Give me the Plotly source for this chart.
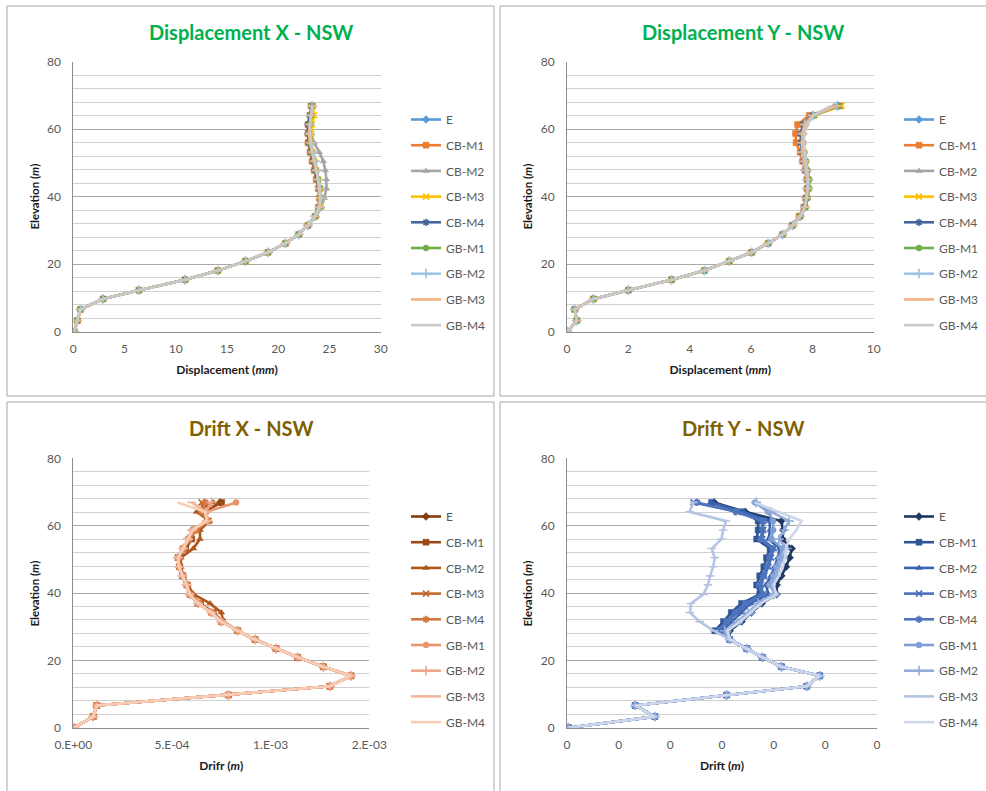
import numpy as np
import plotly.graph_objects as go

W, H = 986, 791
FONT = "Lato"

# ---------------- data ----------------
SERIES = ["E", "CB-M1", "CB-M2", "CB-M3", "CB-M4", "GB-M1", "GB-M2", "GB-M3", "GB-M4"]

ELEV = [0, 3.3, 6.6, 9.7, 12.3, 15.4, 18.1, 20.9, 23.5, 26.2, 28.8, 31.5, 34.2,
        36.9, 39.6, 42.4, 45.1, 47.8, 50.5, 53.2, 56.0, 58.7, 61.4, 64.1, 66.9]

# Displacement X (mm)
DX_E    = [0.1, 0.4, 0.7, 2.9, 6.4, 10.9, 14.1, 16.8, 19.0, 20.7, 22.0, 22.9, 23.6, 24.0, 24.1, 24.0, 23.8, 23.6, 23.5, 23.3, 23.1, 23.0, 23.0, 23.2, 23.3]
DX_CBM1 = [0.1, 0.4, 0.7, 2.9, 6.4, 10.9, 14.1, 16.8, 19.0, 20.7, 22.0, 22.9, 23.6, 23.9, 24.0, 23.9, 23.7, 23.5, 23.3, 23.1, 22.9, 22.9, 22.9, 23.1, 23.2]
DX_CBM2 = [0.1, 0.4, 0.7, 2.9, 6.4, 10.9, 14.1, 16.8, 19.0, 20.7, 22.0, 22.9, 23.7, 24.2, 24.5, 24.7, 24.7, 24.6, 24.4, 24.0, 23.5, 23.2, 23.1, 23.2, 23.3]
DX_CBM3 = [0.1, 0.4, 0.7, 2.9, 6.4, 10.9, 14.1, 16.8, 19.0, 20.7, 22.0, 22.9, 23.6, 24.1, 24.2, 24.1, 23.9, 23.7, 23.5, 23.3, 23.2, 23.2, 23.3, 23.5, 23.4]
DX_CBM4 = [0.1, 0.4, 0.7, 2.9, 6.4, 10.9, 14.1, 16.8, 19.0, 20.7, 22.0, 22.9, 23.6, 24.0, 24.1, 24.0, 23.8, 23.6, 23.4, 23.2, 23.0, 22.9, 22.9, 23.1, 23.3]
DX_GBM1 = [0.1, 0.4, 0.7, 2.9, 6.4, 10.9, 14.1, 16.8, 19.0, 20.7, 22.0, 22.9, 23.6, 24.0, 24.1, 24.1, 23.9, 23.7, 23.5, 23.3, 23.1, 23.0, 23.1, 23.2, 23.3]
DX_GBM2 = [0.1, 0.4, 0.7, 2.9, 6.4, 10.9, 14.1, 16.8, 19.0, 20.7, 22.0, 22.9, 23.6, 24.1, 24.2, 24.1, 23.9, 23.8, 23.6, 23.4, 23.2, 23.1, 23.1, 23.2, 23.3]
DX_GBM3 = [0.1, 0.4, 0.7, 2.9, 6.4, 10.9, 14.1, 16.8, 19.0, 20.7, 22.0, 22.9, 23.6, 24.0, 24.1, 24.0, 23.9, 23.7, 23.5, 23.3, 23.1, 23.0, 23.1, 23.2, 23.4]
DX_GBM4 = [0.1, 0.4, 0.7, 2.9, 6.4, 10.9, 14.1, 16.8, 19.0, 20.7, 22.0, 22.9, 23.6, 24.0, 24.1, 24.0, 23.9, 23.7, 23.5, 23.3, 23.2, 23.1, 23.1, 23.2, 23.4]

# Displacement Y (mm)
DY_E    = [0.02, 0.32, 0.25, 0.86, 2.0, 3.41, 4.48, 5.29, 6.02, 6.56, 7.03, 7.36, 7.60, 7.76, 7.82, 7.87, 7.87, 7.82, 7.76, 7.71, 7.68, 7.68, 7.74, 8.03, 8.85]
DY_CBM1 = [0.02, 0.32, 0.25, 0.86, 2.0, 3.41, 4.48, 5.29, 6.02, 6.56, 7.03, 7.34, 7.57, 7.72, 7.78, 7.82, 7.82, 7.76, 7.68, 7.60, 7.47, 7.45, 7.52, 7.90, 8.90]
DY_CBM2 = [0.02, 0.32, 0.25, 0.86, 2.0, 3.41, 4.48, 5.29, 6.02, 6.56, 7.03, 7.36, 7.60, 7.77, 7.84, 7.88, 7.88, 7.83, 7.77, 7.72, 7.66, 7.64, 7.70, 8.00, 8.70]
DY_CBM3 = [0.02, 0.32, 0.25, 0.86, 2.0, 3.41, 4.48, 5.29, 6.02, 6.56, 7.03, 7.36, 7.60, 7.76, 7.82, 7.86, 7.86, 7.81, 7.75, 7.70, 7.66, 7.66, 7.73, 8.05, 8.95]
DY_CBM4 = [0.02, 0.32, 0.25, 0.86, 2.0, 3.41, 4.48, 5.29, 6.02, 6.56, 7.03, 7.35, 7.59, 7.75, 7.80, 7.84, 7.84, 7.79, 7.72, 7.66, 7.62, 7.62, 7.70, 8.00, 8.85]
DY_GBM1 = [0.02, 0.32, 0.25, 0.86, 2.0, 3.41, 4.48, 5.29, 6.02, 6.56, 7.03, 7.37, 7.62, 7.78, 7.85, 7.90, 7.90, 7.85, 7.80, 7.74, 7.70, 7.70, 7.78, 8.08, 8.85]
DY_GBM2 = [0.02, 0.32, 0.25, 0.86, 2.0, 3.41, 4.48, 5.29, 6.02, 6.56, 7.03, 7.36, 7.60, 7.75, 7.80, 7.83, 7.82, 7.76, 7.70, 7.66, 7.66, 7.68, 7.75, 8.02, 8.80]
DY_GBM3 = [0.02, 0.32, 0.25, 0.86, 2.0, 3.41, 4.48, 5.29, 6.02, 6.56, 7.03, 7.36, 7.60, 7.76, 7.82, 7.86, 7.86, 7.82, 7.76, 7.71, 7.68, 7.68, 7.74, 8.03, 8.80]
DY_GBM4 = [0.02, 0.32, 0.25, 0.86, 2.0, 3.41, 4.48, 5.29, 6.02, 6.56, 7.03, 7.36, 7.60, 7.76, 7.82, 7.86, 7.87, 7.83, 7.78, 7.74, 7.72, 7.74, 7.82, 8.05, 8.60]

# Drift X (values in units of 1e-4 m)
DRIFT_UNIT = 1e-4
DRX_E    = [0.04, 1.01, 1.19, 7.86, 13.0, 14.07, 12.67, 11.37, 10.27, 9.21, 8.33, 7.52, 7.01, 6.34, 5.91, 5.75, 5.54, 5.37, 5.32, 5.58, 5.83, 6.05, 6.76, 6.68, 7.44]
DRX_CBM1 = [0.04, 1.01, 1.19, 7.86, 13.0, 14.07, 12.67, 11.37, 10.27, 9.21, 8.33, 7.55, 7.10, 6.45, 5.95, 5.78, 5.56, 5.40, 5.36, 5.70, 6.00, 6.10, 6.80, 6.60, 7.52]
DRX_CBM2 = [0.04, 1.01, 1.19, 7.86, 13.0, 14.07, 12.67, 11.37, 10.27, 9.21, 8.33, 7.60, 7.50, 6.93, 6.10, 5.80, 5.58, 5.45, 5.45, 6.08, 6.42, 6.42, 6.90, 6.25, 7.10]
DRX_CBM3 = [0.04, 1.01, 1.19, 7.86, 13.0, 14.07, 12.67, 11.37, 10.27, 9.21, 8.33, 7.50, 7.00, 6.30, 5.90, 5.74, 5.52, 5.36, 5.30, 5.55, 5.85, 6.20, 6.85, 6.55, 6.50]
DRX_CBM4 = [0.04, 1.01, 1.19, 7.86, 13.0, 14.07, 12.67, 11.37, 10.27, 9.21, 8.33, 7.52, 7.05, 6.40, 5.93, 5.76, 5.55, 5.38, 5.34, 5.60, 5.90, 6.25, 6.80, 6.50, 6.70]
DRX_GBM1 = [0.04, 1.01, 1.19, 7.86, 13.0, 14.07, 12.67, 11.37, 10.27, 9.21, 8.33, 7.52, 7.01, 6.34, 5.91, 5.75, 5.54, 5.37, 5.32, 5.58, 5.83, 6.05, 6.80, 6.75, 8.25]
DRX_GBM2 = [0.04, 1.01, 1.19, 7.86, 13.0, 14.07, 12.67, 11.37, 10.27, 9.21, 8.33, 7.50, 7.00, 6.32, 5.90, 5.74, 5.53, 5.36, 5.30, 5.56, 5.80, 6.02, 6.78, 6.70, 7.00]
DRX_GBM3 = [0.04, 1.01, 1.19, 7.86, 13.0, 14.07, 12.67, 11.37, 10.27, 9.21, 8.33, 7.50, 7.00, 6.33, 5.90, 5.74, 5.53, 5.36, 5.31, 5.57, 5.82, 6.04, 6.76, 6.70, 6.00]
DRX_GBM4 = [0.04, 1.01, 1.19, 7.86, 13.0, 14.07, 12.67, 11.37, 10.27, 9.21, 8.33, 7.50, 7.00, 6.33, 5.90, 5.74, 5.53, 5.36, 5.31, 5.57, 5.82, 6.04, 6.76, 6.70, 5.28]

# Drift Y (values in units of 1e-4 m)
DRY_E    = [0.03, 1.70, 1.32, 3.09, 4.64, 4.89, 4.15, 3.78, 3.48, 3.15, 3.15, 3.38, 3.57, 3.77, 4.06, 4.06, 4.15, 4.24, 4.31, 4.35, 4.17, 4.18, 4.15, 3.45, 2.85]
DRY_CBM1 = [0.03, 1.70, 1.32, 3.09, 4.64, 4.89, 4.15, 3.78, 3.48, 3.15, 2.86, 3.03, 3.18, 3.38, 3.73, 3.67, 3.73, 3.81, 3.86, 3.93, 3.67, 3.70, 3.70, 3.41, 2.80]
DRY_CBM2 = [0.03, 1.70, 1.32, 3.09, 4.64, 4.89, 4.15, 3.78, 3.48, 3.15, 3.00, 3.20, 3.38, 3.55, 3.90, 3.85, 3.95, 4.02, 4.08, 4.12, 3.90, 3.93, 3.92, 3.40, 2.78]
DRY_CBM3 = [0.03, 1.70, 1.32, 3.09, 4.64, 4.89, 4.15, 3.78, 3.48, 3.15, 2.95, 3.10, 3.30, 3.50, 3.80, 3.75, 3.82, 3.90, 3.95, 4.00, 3.78, 3.80, 3.80, 3.30, 2.45]
DRY_CBM4 = [0.03, 1.70, 1.32, 3.09, 4.64, 4.89, 4.15, 3.78, 3.48, 3.15, 2.92, 3.08, 3.25, 3.45, 3.78, 3.72, 3.80, 3.87, 3.92, 3.98, 3.75, 3.78, 3.78, 3.27, 2.52]
DRY_GBM1 = [0.03, 1.70, 1.32, 3.09, 4.64, 4.89, 4.15, 3.78, 3.48, 3.15, 3.12, 3.35, 3.57, 3.73, 4.06, 3.92, 3.99, 4.05, 4.11, 4.17, 3.96, 3.99, 3.99, 3.89, 3.64]
DRY_GBM2 = [0.03, 1.70, 1.32, 3.09, 4.64, 4.89, 4.15, 3.78, 3.48, 3.15, 3.05, 3.30, 3.50, 3.70, 4.00, 3.95, 4.05, 4.10, 4.18, 4.25, 4.10, 4.20, 4.30, 3.95, 3.66]
DRY_GBM3 = [0.03, 1.70, 1.32, 3.09, 4.64, 4.89, 4.15, 3.78, 3.48, 3.15, 2.84, 2.57, 2.38, 2.40, 2.64, 2.73, 2.77, 2.83, 2.86, 2.80, 2.99, 3.02, 3.08, 2.37, 2.45]
DRY_GBM4 = [0.03, 1.70, 1.32, 3.09, 4.64, 4.89, 4.15, 3.78, 3.48, 3.15, 3.10, 3.35, 3.55, 3.75, 4.05, 4.00, 4.10, 4.18, 4.22, 4.24, 4.30, 4.44, 4.54, 4.10, 3.63]

# tick labels
DISP_X_TICKS = [0, 5, 10, 15, 20, 25, 30]
DISP_Y_TICKS = [0, 2, 4, 6, 8, 10]
DRIFT_X_TICKVALS = [0, 5e-4, 1e-3, 1.5e-3]
DRIFT_X_TICKTEXT = ["0.E+00", "5.E-04", "1.E-03", "2.E-03"]
DRIFT_Y_TICKVALS = [0, 1e-4, 2e-4, 3e-4, 4e-4, 5e-4, 6e-4]
DRIFT_Y_TICKTEXT = ["0", "0", "0", "0", "0", "0", "0"]

PANELS = [
    dict(title="Displacement X - NSW", tcolor="#00B050", xtitle="Displacement (<i>mm</i>)",
         data=[DX_E, DX_CBM1, DX_CBM2, DX_CBM3, DX_CBM4, DX_GBM1, DX_GBM2, DX_GBM3, DX_GBM4], scale=1.0,
         colors=["#5B9BD5", "#ED7D31", "#A5A5A5", "#FFC000", "#43669E", "#70AD47", "#9DC3E6", "#F4B183", "#C9C9C9"]),
    dict(title="Displacement Y - NSW", tcolor="#00B050", xtitle="Displacement (<i>mm</i>)",
         data=[DY_E, DY_CBM1, DY_CBM2, DY_CBM3, DY_CBM4, DY_GBM1, DY_GBM2, DY_GBM3, DY_GBM4], scale=1.0,
         colors=["#5B9BD5", "#ED7D31", "#A5A5A5", "#FFC000", "#43669E", "#70AD47", "#9DC3E6", "#F4B183", "#C9C9C9"]),
    dict(title="Drift X - NSW", tcolor="#7F6000", xtitle="Drifr (<i>m</i>)",
         data=[DRX_E, DRX_CBM1, DRX_CBM2, DRX_CBM3, DRX_CBM4, DRX_GBM1, DRX_GBM2, DRX_GBM3, DRX_GBM4], scale=DRIFT_UNIT,
         colors=["#843C0C", "#9A4A16", "#B0561C", "#C4672C", "#D4773C", "#E9946C", "#EDA688", "#F1B89E", "#F7CDB8"]),
    dict(title="Drift Y - NSW", tcolor="#7F6000", xtitle="Drift (<i>m</i>)",
         data=[DRY_E, DRY_CBM1, DRY_CBM2, DRY_CBM3, DRY_CBM4, DRY_GBM1, DRY_GBM2, DRY_GBM3, DRY_GBM4], scale=DRIFT_UNIT,
         colors=["#1F3864", "#2F5597", "#3A62AE", "#4A70B8", "#4E74BC", "#7F9ED6", "#93ABD9", "#B4C4E2", "#CDD6EB"]),
]
Y_TITLE = "Elevation (<i>m</i>)"

MARKERS = [
    dict(symbol="diamond", size=6),
    dict(symbol="square", size=6),
    dict(symbol="triangle-up", size=6),
    dict(symbol="x-thin", size=6),
    dict(symbol="asterisk", size=6),
    dict(symbol="circle", size=6),
    dict(symbol="cross-thin", size=7),
    dict(symbol="line-ew", size=6),
    None,
]

# ---------------- layout geometry (pixels) ----------------
PLOT_BOX = [  # x0, x1, ytop, ybottom
    (73.3, 380.7, 61.7, 331.7),
    (567.0, 873.7, 61.7, 331.7),
    (73.3, 369.3, 458.3, 727.7),
    (567.0, 877.0, 458.3, 727.7),
]
PANEL_BOX = [(7, 494, 6, 396), (500, 990, 6, 396), (7, 494, 402, 795), (500, 990, 402, 795)]
TITLE_POS = [(250.5, 31.7), (743, 31.7), (250.5, 427.5), (743, 427.5)]
YTITLE_POS = [(34, 196.5), (527, 196.5), (34, 593.5), (527, 593.5)]
LEGEND_POS = [(406, 105), (899, 105), (406, 502), (899, 502)]

def fx(p):
    return p / W

def fy(p):
    return 1 - p / H

fig = go.Figure()

for i, pan in enumerate(PANELS):
    ax = "" if i == 0 else str(i + 1)
    leg = "legend" if i == 0 else f"legend{i + 1}"
    for j, name in enumerate(SERIES):
        col = pan["colors"][j]
        xs = np.array(pan["data"][j]) * pan["scale"]
        mk = MARKERS[j]
        if mk is None:
            mode = "lines"
            marker = dict()
        else:
            mode = "lines+markers"
            thin = mk["symbol"] in ("x-thin", "asterisk", "cross-thin", "line-ew")
            marker = dict(symbol=mk["symbol"], size=mk["size"], color=col,
                          line=dict(color=col, width=1.6 if thin else 0.5))
        fig.add_trace(go.Scatter(
            x=xs, y=ELEV, mode=mode, name=name, marker=marker,
            line=dict(color=col, width=2.6),
            xaxis="x" + ax, yaxis="y" + ax, legend=leg,
            legendgroup=f"p{i}-{name}", hoverinfo="skip",
        ))

layout = dict(
    width=W, height=H, margin=dict(l=0, r=0, t=0, b=0, autoexpand=False),
    paper_bgcolor="white", plot_bgcolor="white",
    font=dict(family=FONT, size=12, color="#595959"),
    showlegend=True,
)

axis_common_y = dict(
    range=[0, 80], dtick=20, tick0=0, showgrid=True, gridcolor="#A9A9A9", gridwidth=1,
    minor=dict(dtick=4, tick0=0, showgrid=True, gridcolor="#D0D0D0", gridwidth=1),
    showline=True, linecolor="#8C8C8C", linewidth=1, zeroline=False, ticks="",
    ticklabelstandoff=9, tickfont=dict(size=12, color="#595959", family=FONT),
    fixedrange=True, automargin=True,
)

x_ranges = [(0, 30), (0, 10), (0, 1.5e-3), (0, 6e-4)]
x_ticks = [
    dict(tickvals=DISP_X_TICKS),
    dict(tickvals=DISP_Y_TICKS),
    dict(tickvals=DRIFT_X_TICKVALS, ticktext=DRIFT_X_TICKTEXT),
    dict(tickvals=DRIFT_Y_TICKVALS, ticktext=DRIFT_Y_TICKTEXT),
]

annotations = []
shapes = []
for i, pan in enumerate(PANELS):
    x0, x1, yt, yb = PLOT_BOX[i]
    suffix = "" if i == 0 else str(i + 1)
    xa = dict(
        domain=[fx(x0), fx(x1)], range=list(x_ranges[i]), anchor="y" + suffix,
        showgrid=False, zeroline=False, showline=True, linecolor="#8C8C8C", linewidth=1,
        ticks="", ticklabelstandoff=6, tickfont=dict(size=12, color="#595959", family=FONT),
        title=dict(text=f"<b>{pan['xtitle']}</b>", font=dict(size=12, color="#1A1A1A", family=FONT), standoff=10),
        fixedrange=True, automargin=True, **x_ticks[i],
    )
    ya = dict(axis_common_y)
    ya["domain"] = [fy(yb), fy(yt)]
    ya["anchor"] = "x" + suffix
    layout["xaxis" + suffix] = xa
    layout["yaxis" + suffix] = ya

    lx, ly = LEGEND_POS[i]
    layout["legend" if i == 0 else f"legend{i + 1}"] = dict(
        x=fx(lx), y=fy(ly), xanchor="left", yanchor="top", xref="container", yref="container",
        font=dict(size=12, color="#595959", family=FONT),
        bgcolor="rgba(0,0,0,0)", traceorder="grouped", tracegroupgap=6.7,
        itemwidth=30, itemclick=False, itemdoubleclick=False,
    )

    tx, ty = TITLE_POS[i]
    annotations.append(dict(
        text=f"<b>{pan['title']}</b>", x=fx(tx), y=fy(ty), xref="paper", yref="paper",
        xanchor="center", yanchor="middle", showarrow=False,
        font=dict(size=20, color=pan["tcolor"], family=FONT),
    ))
    yx, yy = YTITLE_POS[i]
    annotations.append(dict(
        text=f"<b>{Y_TITLE}</b>", x=fx(yx), y=fy(yy), xref="paper", yref="paper",
        xanchor="center", yanchor="middle", showarrow=False, textangle=-90,
        font=dict(size=11.5, color="#1A1A1A", family=FONT),
    ))
    px0, px1, py0, py1 = PANEL_BOX[i]
    shapes.append(dict(type="rect", xref="paper", yref="paper",
                       x0=fx(px0), x1=fx(px1), y0=fy(py1), y1=fy(py0),
                       line=dict(color="#A6A6A6", width=1), fillcolor="rgba(0,0,0,0)", layer="below"))

layout["annotations"] = annotations
layout["shapes"] = shapes
fig.update_layout(**layout)

fig.write_html(
    "out.html",
    config=dict(displayModeBar=False),
    post_script="document.body.style.margin='0';document.body.style.overflow='hidden';",
)
